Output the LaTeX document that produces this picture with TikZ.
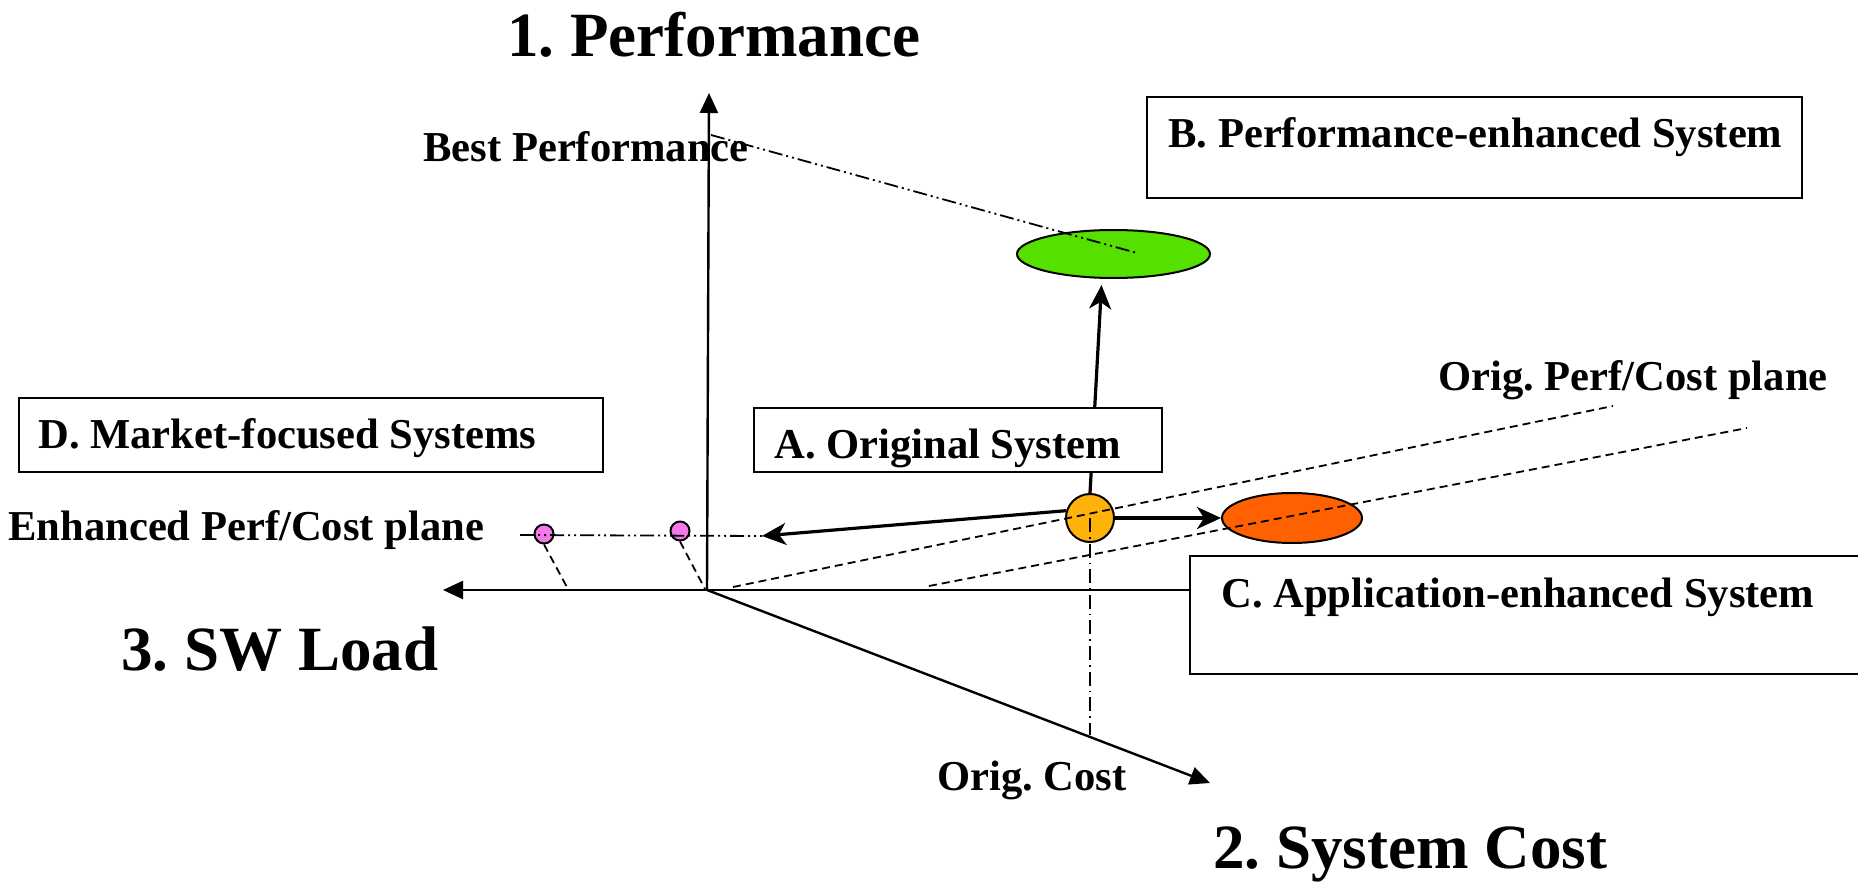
\documentclass[tikz,border=0pt]{standalone}
\usepackage{fontspec}
\setmainfont{Liberation Serif}
\usetikzlibrary{arrows.meta,shapes.geometric}
\definecolor{cgreen}{RGB}{85,224,0}
\definecolor{corange}{RGB}{255,96,0}
\definecolor{cyellow}{RGB}{255,179,10}
\definecolor{cpink}{RGB}{245,120,232}
\frenchspacing
\begin{document}
\begin{tikzpicture}[x=0.5pt,y=-0.5pt,
  lbl/.style={font=\fontsize{21.3}{24}\selectfont\bfseries, inner sep=0pt, anchor=base west},
  big/.style={font=\fontsize{31.5}{36}\selectfont\bfseries, inner sep=0pt, anchor=base west},
  box/.style={draw, line width=1.2pt, fill=white, rectangle, inner sep=0pt},
  blob/.style={draw, line width=1pt, ellipse, inner sep=0pt},
  axis/.style={line width=1.2pt, -{Triangle[length=10pt,width=9pt]}},
  move/.style={line width=1.6pt, -{Stealth[length=12pt,width=11pt,inset=3.5pt]}},
  dd/.style={line width=0.9pt, dash pattern=on 7pt off 2pt on 1pt off 2pt on 1pt off 2pt},
  dk/.style={line width=0.9pt, dash pattern=on 4pt off 2.5pt}
]
\useasboundingbox (0,0) rectangle (1858,882);

% blobs
\node[blob, fill=cgreen, minimum width=96.5pt, minimum height=24pt] (G) at (1113.5,254) {};
\node[blob, fill=corange, minimum width=70pt, minimum height=25pt] (Or) at (1292,518) {};
\node[blob, fill=cyellow, minimum width=24pt, minimum height=24pt] (Y) at (1090,518) {};
\node[blob, fill=cpink, minimum width=9.5pt, minimum height=9.5pt] (P1) at (544,534) {};
\node[blob, fill=cpink, minimum width=9.5pt, minimum height=9.5pt] (P2) at (680,531) {};

% coordinates
\coordinate (O) at (707,590);
\coordinate (PerfTip) at (709,93);
\coordinate (SWTip) at (443,590);
\coordinate (CostTip) at (1210,783);
\coordinate (BP) at (711,135);
\coordinate (BPend) at (1137,253);
\coordinate (ES) at (520,535);
\coordinate (EL) at (762,536);
\coordinate (OC) at (1090,735);
\coordinate (Q1a) at (733,587);
\coordinate (Q1b) at (1613,406);
\coordinate (Q2a) at (929,586);
\coordinate (Q2b) at (1747,428);
\coordinate (S1) at (568,589);
\coordinate (S2) at (705,589);

% boxes (C first, needed for axis end)
\node[box, minimum width=345pt, minimum height=59pt] (C) at (1535,615) {};

% axes
\draw[axis] (O) -- (PerfTip);
\draw[axis] (O) -- (SWTip);
\draw[axis] (O) -- (CostTip);
\draw[line width=1.2pt] (O) -- (O -| C.west);

% reference lines
\draw[dd] (BP) -- (BPend);
\draw[dd] (ES) -- (EL);
\draw[line width=0.8pt, dash pattern=on 7pt off 2.5pt on 0.8pt off 2.5pt] (Y.center) -- (OC);
\draw[dk] (Q1a) -- (Q1b);
\draw[dk] (Q2a) -- (Q2b);
\draw[dk] (P1.south) -- (S1);
\draw[dk] (P2.south) -- (S2);

% moves
\draw[move] (Y.north) -- ([xshift=-6pt,yshift=-3pt]G.south);
\draw[move] (Y.163) -- (EL);
\draw[move] (Y.east) -- (Or.west);

% other boxes
\node[box, minimum width=204pt, minimum height=32pt] (A) at (958,440) {};
\node[box, minimum width=327.5pt, minimum height=50.5pt] (B) at (1474.5,147.5) {};
\node[box, minimum width=292pt, minimum height=37pt] (D) at (311,435) {};

% texts
\node[big] (t1) at (507,57) {1. Performance};
\node[big] (t2) at (1213,868) {2. System Cost};
\node[big] (t3) at (121,670) {3. SW Load};
\node[lbl] (tbp) at (423,162) {Best Performance};
\node[lbl] (tB) at (1168,148) {B. Performance-enhanced System};
\node[lbl] (tOP) at (1438,390) {Orig. Perf/Cost plane};
\node[lbl] (tA) at (774,458) {A. Original System};
\node[lbl] (tD) at (38,448) {D. Market-focused Systems};
\node[lbl] (tE) at (8,540) {Enhanced Perf/Cost plane};
\node[lbl] (tC) at (1221,607) {C. Application-enhanced System};
\node[lbl] (tOC) at (937,790) {Orig. Cost};
\end{tikzpicture}
\end{document}
